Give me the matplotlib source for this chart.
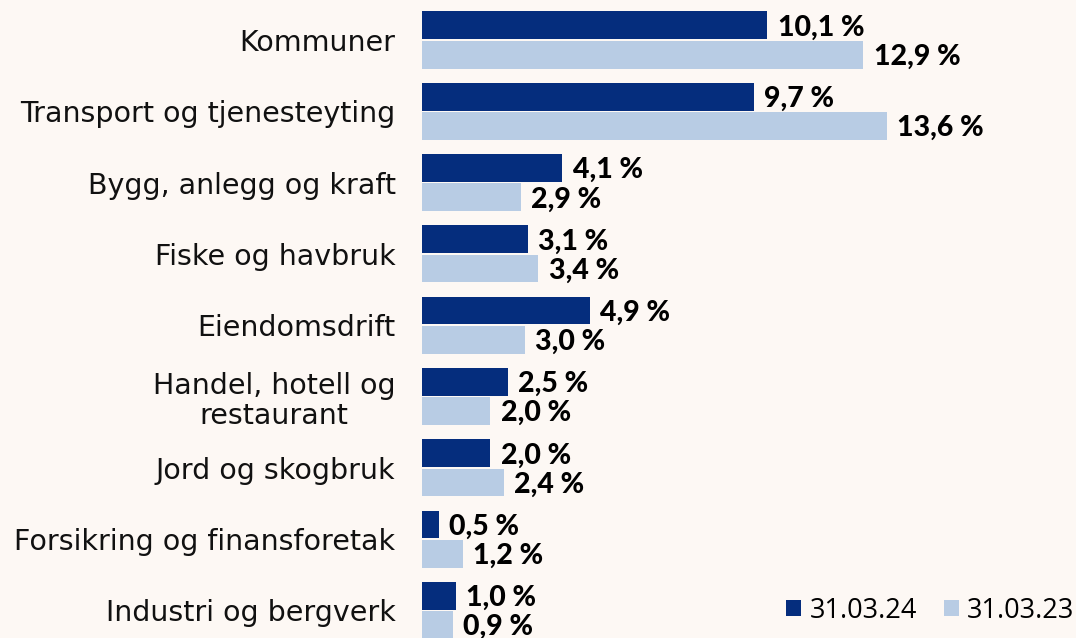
import matplotlib.pyplot as plt
import numpy as np

categories = ["Kommuner", "Transport og tjenesteyting", "Bygg, anlegg og kraft",
              "Fiske og havbruk", "Eiendomsdrift", "Handel, hotell og\nrestaurant",
              "Jord og skogbruk", "Forsikring og finansforetak", "Industri og bergverk"]
v24 = [10.1, 9.7, 4.1, 3.1, 4.9, 2.5, 2.0, 0.5, 1.0]
v23 = [12.9, 13.6, 2.9, 3.4, 3.0, 2.0, 2.4, 1.2, 0.9]
series_labels = ["31.03.24", "31.03.23"]

dark = "#052d7d"
light = "#b8cce4"
bg = "#fdf8f4"

plt.rcParams['font.family'] = ['DejaVu Sans']

fig = plt.figure(figsize=(10.76, 6.38), dpi=100, facecolor=bg)
ax = fig.add_axes([422/1076, 0, 1 - 422/1076, 1], facecolor=bg)

y = np.arange(len(categories))
h = 0.39
b1 = ax.barh(y - h/2 - 0.01, v24, height=h, color=dark, label=series_labels[0])
b2 = ax.barh(y + h/2 + 0.01, v23, height=h, color=light, label=series_labels[1])

for bars, vals in ((b1, v24), (b2, v23)):
    for bar, v in zip(bars, vals):
        ax.text(v + 0.3, bar.get_y() + bar.get_height()/2 + 0.03,
                f"{v:.1f} %".replace(".", ","), va="center", ha="left",
                fontsize=20.5, fontweight="black", family=["Lato", "DejaVu Sans"],
                color="black")

ax.set_ylim(8.387, -0.561)
ax.set_xlim(0, 19.12)
ax.set_yticks(y)
ax.set_yticklabels(categories, fontsize=20.5, multialignment="center",
                   linespacing=1.1, color="#111111")
ax.tick_params(axis="y", length=0, pad=19)
ax.set_xticks([])
for s in ax.spines.values():
    s.set_visible(False)

leg = ax.legend(loc="lower right", bbox_to_anchor=(1.014, 0.004), ncol=2, frameon=False,
                prop={"family": ["Open Sans", "DejaVu Sans"], "size": 19.5},
                handlelength=0.55, handleheight=0.55, handletextpad=0.3,
                columnspacing=1.0, borderaxespad=0.0)

fig.savefig("out.png", dpi=100, facecolor=bg)
